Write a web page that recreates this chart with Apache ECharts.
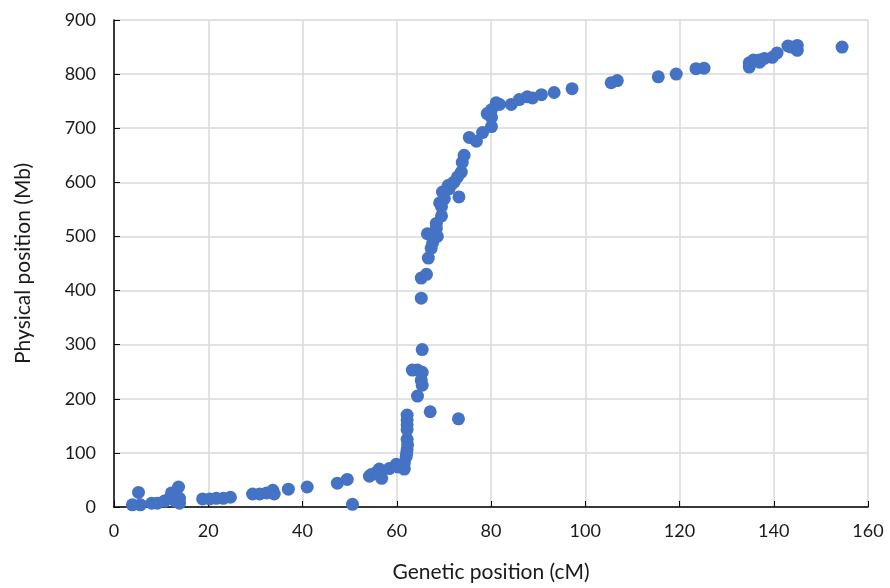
<!DOCTYPE html>
<html>
<head>
<meta charset="utf-8">
<script src="https://cdn.jsdelivr.net/npm/echarts@6/dist/echarts.min.js"></script>
<style>
  html, body { margin: 0; padding: 0; background: #fff; }
  #main { width: 890px; height: 588px; }
</style>
</head>
<body>
<div id="main"></div>
<script>
// genetic position (cM)
var geneticPos = [
  3.9, 5.2, 5.6, 8.0, 9.2, 10.7, 11.8, 12.2, 13.7, 13.9, 13.9, 13.0,
  18.8, 20.3, 21.7, 23.2, 24.7,
  29.4, 30.9, 32.4, 33.7, 34.0, 37.0,
  41.0, 47.4, 49.5, 50.6,
  54.2, 54.6, 56.3, 56.8, 55.7, 58.4, 59.9, 61.6, 61.6, 60.8, 60.2,
  62.0, 62.2, 62.2, 62.2, 62.2, 62.2, 62.3, 62.1, 62.2,
  64.4, 63.3, 64.4, 65.4, 65.2, 65.4, 65.4, 67.1, 73.1,
  65.2, 65.2, 66.3, 66.7, 67.3, 66.5, 68.6, 68.4, 69.5, 69.5, 70.1, 69.7, 71.1, 73.2,
  72.2, 73.7, 73.9, 74.3, 70.9, 71.7, 72.9, 69.1, 68.4, 67.6,
  75.4, 76.9, 78.2, 80.1, 80.1, 80.1, 81.1, 81.8, 79.2,
  84.3, 86.0, 87.7, 88.8, 90.7, 93.4, 97.2,
  105.5, 106.8, 115.5, 119.3, 123.5, 125.2,
  134.8, 134.8, 136.9, 139.7, 140.7, 143.7, 145.0, 154.5,
  135.7, 137.0, 138.0, 145.0, 143.0
];
// physical position (Mb)
var physicalPos = [
  4, 27, 4, 7, 7, 11, 16, 26, 37, 16, 7, 11,
  15, 15, 16, 16, 18,
  24, 24, 26, 31, 24, 33,
  37, 44, 51, 5,
  57, 60, 70, 53, 64, 71, 79, 70, 81, 76, 74,
  93, 106, 125, 143, 161, 170, 115, 99, 152,
  205, 253, 253, 249, 234, 225, 291, 176, 163,
  386, 423, 430, 460, 478, 505, 500, 524, 538, 555, 570, 582, 588, 573,
  601, 619, 637, 650, 594, 597, 610, 562, 515, 488,
  683, 676, 692, 703, 720, 734, 747, 744, 727,
  744, 753, 758, 756, 762, 766, 773,
  784, 788, 795, 800, 810, 811,
  821, 813, 826, 831, 839, 850, 844, 850,
  826, 822, 829, 853, 852
];

var xTicks = { min: 0, max: 160, step: 20 };
var yTicks = { min: 0, max: 900, step: 100 };

var points = geneticPos.map(function (x, i) {
  return [x, physicalPos[i]];
});

var fontName = 'Lato, "Open Sans", sans-serif';
var myChart = echarts.init(document.getElementById('main'));

myChart.setOption({
  animation: false,
  grid: {
    left: 114,
    right: 22,
    top: 20,
    bottom: 77
  },
  xAxis: {
    type: 'value',
    min: xTicks.min,
    max: xTicks.max,
    interval: xTicks.step,
    name: 'Genetic position (cM)',
    nameLocation: 'middle',
    nameGap: 55,
    nameTextStyle: { fontSize: 21, color: '#1a1a1a', fontFamily: fontName },
    axisLine: { lineStyle: { color: '#000', width: 1.5 } },
    axisTick: { show: true, inside: true, length: 6, lineStyle: { color: '#000' } },
    axisLabel: { fontSize: 18, color: '#1a1a1a', margin: 15, fontFamily: fontName },
    splitLine: { show: true, lineStyle: { color: '#d9d9d9', width: 1.5 } }
  },
  yAxis: {
    type: 'value',
    min: yTicks.min,
    max: yTicks.max,
    interval: yTicks.step,
    name: 'Physical position (Mb)',
    nameLocation: 'middle',
    nameGap: 80,
    nameTextStyle: { fontSize: 21, color: '#1a1a1a', fontFamily: fontName },
    axisLine: { show: true, lineStyle: { color: '#000', width: 1.5 } },
    axisTick: { show: true, inside: true, length: 6, lineStyle: { color: '#000' } },
    axisLabel: { fontSize: 18, color: '#1a1a1a', margin: 18, fontFamily: fontName },
    splitLine: { show: true, lineStyle: { color: '#d9d9d9', width: 1.5 } }
  },
  series: [{
    type: 'scatter',
    data: points,
    symbol: 'circle',
    symbolSize: 13,
    itemStyle: { color: '#4472C4', opacity: 1 }
  }]
});

window.addEventListener('resize', function () {
  myChart.resize();
});
</script>
</body>
</html>
